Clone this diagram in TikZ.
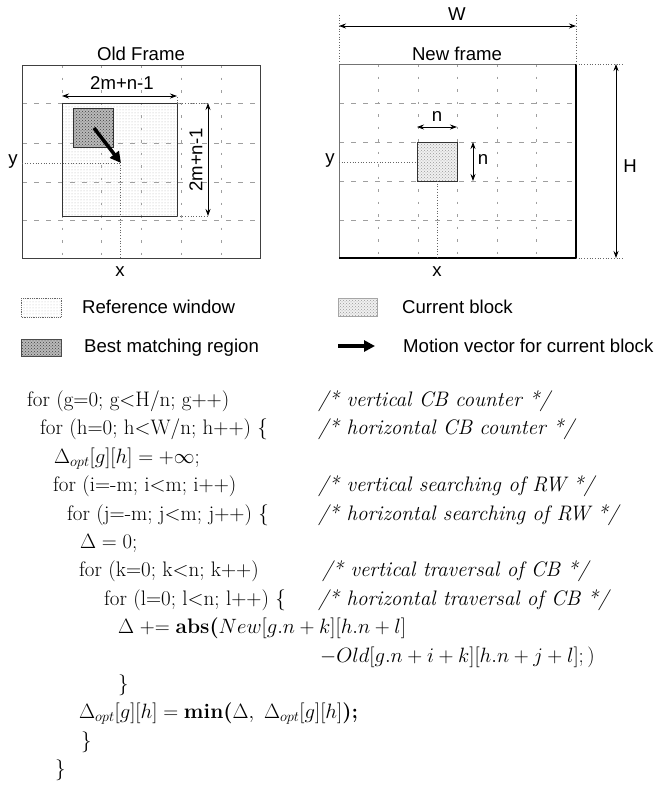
\documentclass[tikz,border=0pt]{standalone}
\usepackage{fontspec}
\newfontfamily\lsans{Liberation Sans}
\usetikzlibrary{arrows.meta,patterns}

\tikzset{
  lbl/.style={font=\lsans\fontsize{18.6}{22}\selectfont, inner sep=0pt},
  codeline/.style={font=\fontsize{21}{25}\selectfont, anchor=base west, inner sep=0pt},
  cmtline/.style={font=\fontsize{21}{25}\selectfont\itshape, anchor=base west, inner sep=0pt},
  gridv/.style={gray!75, line width=0.8pt, dash pattern=on 2.5pt off 10pt},
  gridh/.style={gray!75, line width=0.6pt, dash pattern=on 5pt off 7pt},
  frmbox/.style={draw=black!75, line width=1pt},
  dimarrow/.style={{Stealth[length=7pt,width=5pt]}-{Stealth[length=7pt,width=5pt]}, line width=0.8pt},
  extline/.style={dotted, gray!80!black, line width=0.7pt},
  mvarrow/.style={-{Triangle[length=11pt,width=11pt]}, line width=3.5pt},
}
\newcommand{\bcode}[1]{\mbox{\bfseries #1}}

\begin{document}
\begin{tikzpicture}[x=1pt, y=-1pt]
\useasboundingbox (0,0) rectangle (663,785);

% corners of both frames
\coordinate (O1) at (22,65);
\coordinate (O2) at (260,258);
\coordinate (N1) at (339,64);
\coordinate (N2) at (576,258);

% grids
\foreach \x in {62,101,141,181,221} \draw[gridv] (\x,65) -- (\x,258);
\foreach \y in {103,143,182,220} \draw[gridh] (22,\y) -- (260,\y);
\foreach \x in {378,418,457,497,536} \draw[gridv] (\x,64) -- (\x,258);
\foreach \y in {103,142,181,220} \draw[gridh] (339,\y) -- (576,\y);

\draw[frmbox] (O1) rectangle (O2);
\draw[frmbox, draw=black!55] (N1) rectangle (N2);
\draw[line width=1.4pt] (N2 |- N1) -- (N2) -- (N1 |- N2);

\node[lbl] (oldtitle) at (141,54) {Old Frame};
\node[lbl] (newtitle) at (457,54) {New frame};

% old frame: reference window and best match
\filldraw[pattern=dots, pattern color=gray!60, draw=black!80, line width=0.9pt] (62,103) rectangle (177,216);
\fill[gray!55] (73,108) rectangle (113,147);
\filldraw[pattern=crosshatch dots, pattern color=black!75, draw=black!80, line width=0.9pt] (73,108) rectangle (113,147);
\coordinate (mvs) at (94,128);
\coordinate (mve) at (121,163);
\draw[mvarrow] (mvs) -- (mve);

\coordinate (oy) at (22,163);
\coordinate (ox) at (120,258);
\draw[extline] (oy) -- (120,163) -- (ox);
\node[lbl] (oldy) at (13,162) {y};
\node[lbl] (oldx) at (120,272) {x};

\coordinate (rwl) at (62,96);
\coordinate (rwr) at (177,96);
\draw[extline] (177,103) -- (rwr);
\draw[dimarrow] (rwl) -- (rwr);
\node[lbl] (rwtop) at (122,83) {2m+n-1};
\coordinate (rwt) at (208,103);
\coordinate (rwb) at (208,216);
\draw[extline] (177,103) -- (rwt);
\draw[extline] (177,216) -- (rwb);
\draw[dimarrow] (rwt) -- (rwb);
\node[lbl, rotate=90] (rwside) at (196,160) {2m+n-1};

% new frame: current block
\fill[gray!12] (417,142) rectangle (457,181);
\filldraw[pattern=crosshatch dots, pattern color=gray!80, draw=black!80, line width=0.9pt] (417,142) rectangle (457,181);
\coordinate (nl) at (417,127);
\coordinate (nr) at (457,127);
\draw[dimarrow] (nl) -- (nr);
\node[lbl] (ntop) at (437,116) {n};
\coordinate (nt) at (473,142);
\coordinate (nb) at (473,181);
\draw[dimarrow] (nt) -- (nb);
\node[lbl] (nside) at (483,159) {n};

\coordinate (ny) at (339,162);
\coordinate (nx) at (437,258);
\draw[extline] (ny) -- (417,162);
\draw[extline] (437,181) -- (nx);
\node[lbl] (newy) at (330,161) {y};
\node[lbl] (newx) at (437,272) {x};

\coordinate (wl) at (339,26);
\coordinate (wr) at (576,26);
\draw[extline] (339,15) -- (N1);
\draw[extline] (576,15) -- (N2 |- N1);
\draw[dimarrow] (wl) -- (wr);
\node[lbl] (wlab) at (457,14) {W};
\coordinate (ht) at (616,64);
\coordinate (hb) at (616,258);
\draw[extline] (N2 |- N1) -- (622,64);
\draw[extline] (N2) -- (622,258);
\draw[dimarrow] (ht) -- (hb);
\node[lbl] (hlab) at (630,166) {H};

% legend
\fill[pattern=dots, pattern color=gray!50] (21,298) rectangle (61,317);
\draw[densely dotted, black!60, line width=0.8pt] (21,298) rectangle (61,317);
\node[lbl, anchor=west] (legrw) at (82,307) {Reference window};
\fill[gray!12] (338,298) rectangle (377,316);
\filldraw[pattern=crosshatch dots, pattern color=gray!80, draw=gray!70, line width=0.6pt] (338,298) rectangle (377,316);
\node[lbl, anchor=west] (legcb) at (402,307) {Current block};
\fill[gray!55] (21,339) rectangle (61,356);
\filldraw[pattern=crosshatch dots, pattern color=black!75, draw=black!70, line width=0.6pt] (21,339) rectangle (61,356);
\node[lbl, anchor=west] (legbm) at (84,348) {Best matching region};
\coordinate (lms) at (338,346);
\coordinate (lme) at (375,346);
\draw[mvarrow] (lms) -- (lme);
\node[lbl, anchor=west] (legmv) at (403,346) {Motion vector for current block};

% the search loop
\node[codeline] (l1)  at (27,406)  {for (g=0; g<H/n; g++)};
\node[codeline] (l2)  at (40,434)  {for (h=0; h<W/n; h++) \{};
\node[codeline] (l3)  at (54,463)  {$\Delta_{opt}[g][h] = +\infty;$};
\node[codeline] (l4)  at (53,491)  {for (i=-m; i<m; i++)};
\node[codeline] (l5)  at (67,520)  {for (j=-m; j<m; j++) \{};
\node[codeline] (l6)  at (80,548)  {$\Delta = 0;$};
\node[codeline] (l7)  at (79,576)  {for (k=0; k<n; k++)};
\node[codeline] (l8)  at (104,605) {for (l=0; l<n; l++) \{};
\node[codeline] (l9)  at (118,633) {$\Delta \mathrel{+}\mathrel{=} \bcode{abs(}New[g.n+k][h.n+l]$};
\node[codeline] (l10) at (320,662) {$-Old[g.n+i+k][h.n+j+l];)$};
\node[codeline] (l11) at (118,690) {\}};
\node[codeline] (l12) at (79,718)  {$\Delta_{opt}[g][h] = \bcode{min(}\Delta,\ \Delta_{opt}[g][h]\bcode{);}$};
\node[codeline] (l13) at (81,747)  {\}};
\node[codeline] (l14) at (55,775)  {\}};

\node[cmtline] (c1) at (318,406) {/* vertical CB counter */};
\node[cmtline] (c2) at (318,434) {/* horizontal CB counter */};
\node[cmtline] (c4) at (318,491) {/* vertical searching of RW */};
\node[cmtline] (c5) at (318,520) {/* horizontal searching of RW */};
\node[cmtline] (c7) at (322,576) {/* vertical traversal of CB */};
\node[cmtline] (c8) at (318,605) {/* horizontal traversal of CB */};
\end{tikzpicture}
\end{document}
